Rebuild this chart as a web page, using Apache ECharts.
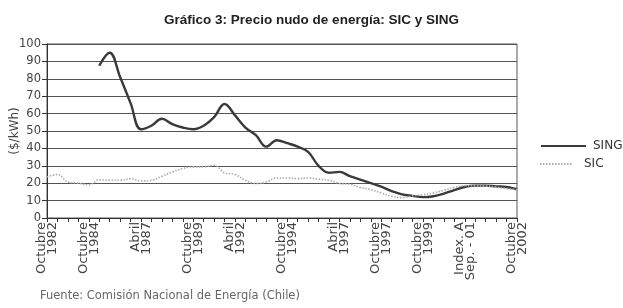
<!DOCTYPE html>
<html><head><meta charset="utf-8">
<script src="https://cdn.jsdelivr.net/npm/echarts@6/dist/echarts.min.js"></script>
<style>html,body{margin:0;padding:0;background:#fff}#c{width:623px;height:308px}</style>
</head><body><div id="c"></div>
<script>
// 46 periods; only some carry a printed label
const categories = [
  'Octubre\n1982','','','','Octubre\n1984','','','','','Abril\n1987',
  '','','','','Octubre\n1989','','','','Abril\n1992','',
  '','','','Octubre\n1994','','','','','Abril\n1997','',
  '','','Octubre\n1997','','','','Octubre\n1999','','','',
  'Index. A\nSep. - 01','','','','','Octubre\n2002'
];
const sing = [
  null,null,null,null,null,87.5,95,81,66,51,
  53,57,54,52,51,53,58,65.5,59,52,
  47.6,41,44.7,43,41,38,30,26,26.5,24,
  22,20,18,15.5,13.6,12.7,12,12.5,14,16,
  17.8,18.6,18.6,18.2,17.8,16.5
];
const sic = [
  23.6,25,20.7,20,19,22,21.7,21.7,22.6,21.3,
  21.7,24,26.5,28.4,29.4,29.4,30.3,26,25,21.7,
  19.8,20.7,23,23,22.6,23,22.3,21.7,19.8,19.4,
  17.5,16.3,14.4,12.5,11.7,12.7,13.4,14.4,16,17.5,
  18.6,18.6,18.4,17.8,16.9,16.3
];
const yMin = 0, yMax = 100, yStep = 10;
const titleText = 'Gráfico 3: Precio nudo de energía: SIC y SING';
const yName = '($/kWh)';
const sourceText = 'Fuente: Comisión Nacional de Energía (Chile)';

const chart = echarts.init(document.getElementById('c'), null, {renderer: 'canvas'});
const F = 'DejaVu Sans';
chart.setOption({
  animation: false,
  backgroundColor: '#fff',
  title: {
    text: titleText, left: 'center', top: 8,
    textStyle: {fontFamily: 'Liberation Sans', fontWeight: 'bold', fontSize: 13.5, color: '#222'}
  },
  legend: [
    {data: ['SING'], orient: 'vertical', left: 540, top: 140, padding: 0, itemWidth: 45, itemHeight: 14,
     itemStyle: {opacity: 0},
     textStyle: {fontFamily: F, fontSize: 12, color: '#333', padding: [0,0,0,2]}},
    {data: ['SIC'], orient: 'vertical', left: 539, top: 158, padding: 0, itemWidth: 33, itemHeight: 14,
     itemStyle: {opacity: 0},
     textStyle: {fontFamily: F, fontSize: 12, color: '#333', padding: [0,0,0,6]}}
  ],
  grid: {left: 47, right: 106, top: 44, bottom: 90, outerBoundsMode: 'none', containLabel: false,
         show: true, borderColor: '#555', borderWidth: 1, backgroundColor: 'transparent'},
  xAxis: {
    type: 'category', data: categories, boundaryGap: false,
    axisLine: {lineStyle: {color: '#333', width: 1}},
    axisTick: {show: true, interval: 0, length: 4, lineStyle: {color: '#333'}},
    axisLabel: {interval: 0, rotate: 90, margin: 4, fontFamily: F, fontSize: 13, lineHeight: 11, color: '#444'},
    splitLine: {show: false}
  },
  yAxis: {
    type: 'value', min: yMin, max: yMax, interval: yStep,
    name: yName, nameLocation: 'middle', nameGap: 26, nameRotate: 90, nameMoveOverlap: false,
    nameTextStyle: {fontFamily: F, fontSize: 12, color: '#444'},
    axisLine: {show: true, lineStyle: {color: '#333', width: 1}},
    axisTick: {show: true, length: 5, lineStyle: {color: '#333'}},
    axisLabel: {fontFamily: F, fontSize: 11.5, color: '#444', margin: 6},
    splitLine: {lineStyle: {color: '#555', width: 1}}
  },
  graphic: [{
    type: 'text', left: 40, top: 290,
    style: {text: sourceText, font: '11.5px "DejaVu Sans"', fill: '#666'}
  }],
  series: [
    {name: 'SING', type: 'line', data: sing, smooth: 0.4, symbol: 'none', connectNulls: false,
     lineStyle: {color: '#3a3a3a', width: 2.4}, itemStyle: {color: '#3a3a3a'}},
    {name: 'SIC', type: 'line', data: sic, smooth: 0.4, symbol: 'none',
     lineStyle: {color: '#aaa', width: 1.6, type: [1.5, 1.5]}, itemStyle: {color: '#aaa'}}
  ]
});
</script></body></html>
